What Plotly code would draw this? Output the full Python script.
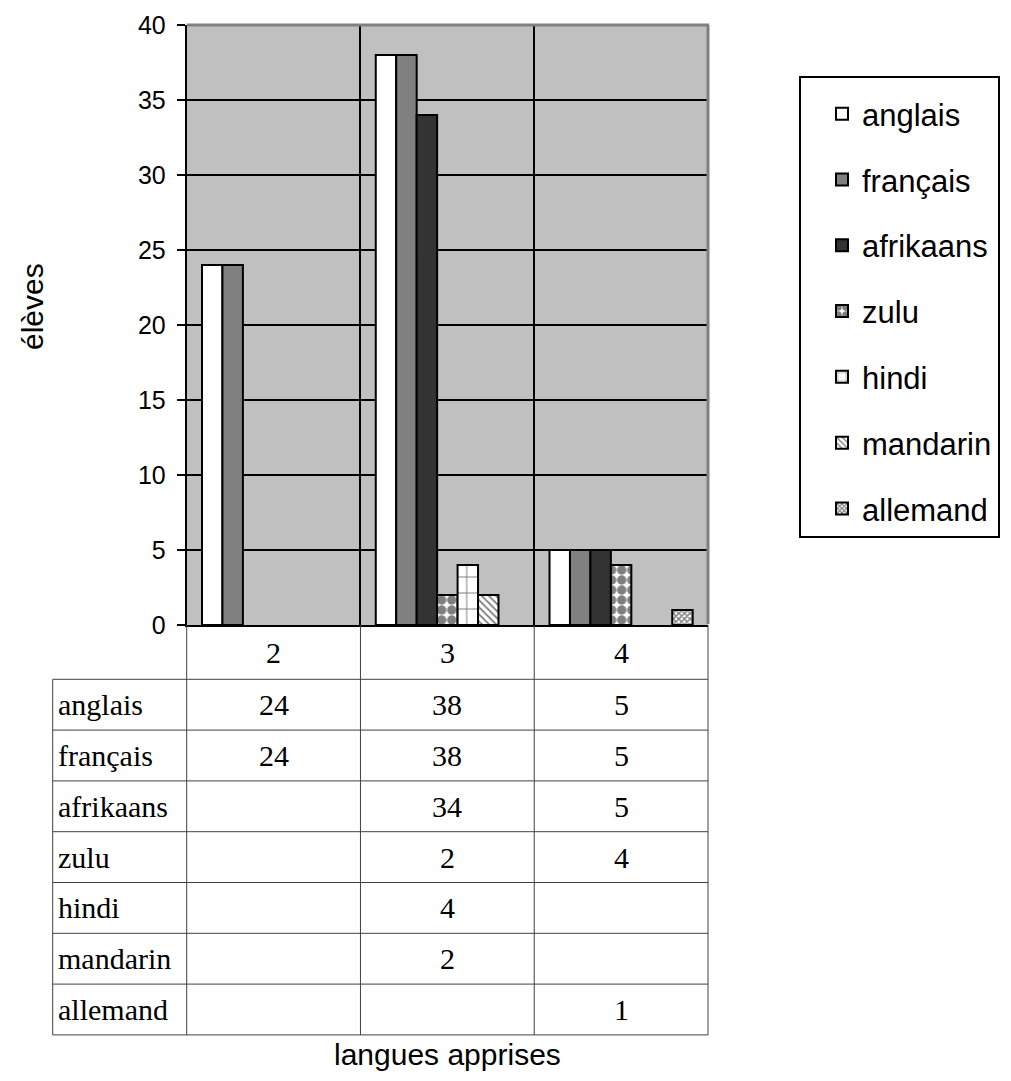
import plotly.graph_objects as go

# ---- data ----
categories = ["2", "3", "4"]
languages = ["anglais", "français", "afrikaans", "zulu", "hindi", "mandarin", "allemand"]
anglais = [24, 38, 5]
francais = [24, 38, 5]
afrikaans = [None, 34, 5]
zulu = [None, 2, 4]
hindi = [None, 4, None]
mandarin = [None, 2, None]
allemand = [None, None, 1]
series = [anglais, francais, afrikaans, zulu, hindi, mandarin, allemand]
y_ticks = [0, 5, 10, 15, 20, 25, 30, 35, 40]

# ---- styles / geometry (target page px; page has an 8px body margin) ----
OFF = 8
W, H = 1011 - OFF, 1081 - 2 * OFF
SANS = "Liberation Sans, Arial, sans-serif"
SERIF = "Liberation Serif, Times New Roman, serif"
PL, PR, PT, PB = 186.7, 708.0, 25.0, 625.0       # plot area
TAB_L, HDR_B, ROW_H = 52.7, 679.3, 50.8          # table

styles = [
    dict(color="white"),
    dict(color="#808080"),
    dict(color="#333333"),
    dict(color="white", pattern=dict(shape=".", fgcolor="black", bgcolor="white", size=10, solidity=0.7)),
    dict(color="white", pattern=dict(shape="+", fgcolor="black", bgcolor="white", size=16, solidity=0.12)),
    dict(color="white", pattern=dict(shape="\\", fgcolor="black", bgcolor="white", size=5, solidity=0.35)),
    dict(color="white", pattern=dict(shape="x", fgcolor="black", bgcolor="white", size=4, solidity=0.6)),
]


def px(x):
    return (x - OFF) / W


def py(y):
    return 1 - (y - OFF) / H


fig = go.Figure()
for name, vals, st in zip(languages, series, styles):
    marker = dict(color=st["color"], line=dict(color="black", width=2))
    if "pattern" in st:
        marker["pattern"] = st["pattern"]
    fig.add_trace(go.Bar(x=categories, y=vals, name=name, marker=marker,
                         legendgroup=name))

shapes = []
line_c = "#404040"
n_cat = len(categories)
cw = (PR - PL) / n_cat
tab_bottom = HDR_B + ROW_H * len(languages)
for i in range(n_cat + 1):
    xx = PL + i * cw
    shapes.append(dict(type="line", xref="paper", yref="paper", x0=px(xx), x1=px(xx),
                       y0=py(PB), y1=py(tab_bottom), line=dict(color=line_c, width=1)))
shapes.append(dict(type="line", xref="paper", yref="paper", x0=px(TAB_L), x1=px(TAB_L),
                   y0=py(HDR_B), y1=py(tab_bottom), line=dict(color=line_c, width=1)))
for r in range(len(languages) + 1):
    yy = HDR_B + r * ROW_H
    shapes.append(dict(type="line", xref="paper", yref="paper", x0=px(TAB_L), x1=px(PR),
                       y0=py(yy), y1=py(yy), line=dict(color=line_c, width=1)))
# gray top / right border of plot area
shapes.append(dict(type="line", xref="paper", yref="paper", x0=px(PL), x1=px(PR + 1),
                   y0=py(PT), y1=py(PT), line=dict(color="#808080", width=3), layer="above"))
shapes.append(dict(type="line", xref="paper", yref="paper", x0=px(PR), x1=px(PR),
                   y0=py(PT), y1=py(PB - 1), line=dict(color="#808080", width=3), layer="above"))
# legend box
shapes.append(dict(type="rect", xref="paper", yref="paper", x0=px(800), x1=px(999),
                   y0=py(537), y1=py(77), line=dict(color="black", width=2)))

annotations = []
# header row: category labels
for i, c in enumerate(categories):
    annotations.append(dict(text=c, xref="x", yref="paper", x=i, y=py((PB + HDR_B) / 2),
                            xanchor="center", yanchor="middle", showarrow=False,
                            font=dict(family=SERIF, size=30, color="black")))
for r, (name, vals) in enumerate(zip(languages, series)):
    yc = HDR_B + (r + 0.5) * ROW_H
    annotations.append(dict(text=name, xref="paper", yref="paper", x=px(TAB_L + 3), y=py(yc),
                            xanchor="left", yanchor="middle", showarrow=False,
                            font=dict(family=SERIF, size=30, color="black")))
    for i, v in enumerate(vals):
        if v is None:
            continue
        annotations.append(dict(text=str(v), xref="x", yref="paper", x=i, y=py(yc),
                                xanchor="center", yanchor="middle", showarrow=False,
                                font=dict(family=SERIF, size=30, color="black")))
annotations.append(dict(text="élèves", xref="paper", yref="paper", x=px(33), y=py(307),
                        textangle=-90, showarrow=False, xanchor="center", yanchor="middle",
                        font=dict(family=SANS, size=30, color="black")))
annotations.append(dict(text="langues apprises", xref="paper", yref="paper", x=px(447), y=py(1054),
                        showarrow=False, xanchor="center", yanchor="middle",
                        font=dict(family=SANS, size=30, color="black")))

fig.update_layout(
    width=W, height=H, autosize=False,
    margin=dict(l=0, r=0, t=0, b=0, pad=0, autoexpand=False),
    paper_bgcolor="white", plot_bgcolor="#c0c0c0",
    barmode="group", bargap=0.176, bargroupgap=0,
    showlegend=True,
    legend=dict(x=px(822), y=py(87), xanchor="left", yanchor="top",
                font=dict(family=SANS, size=31, color="black"),
                bgcolor="rgba(0,0,0,0)", borderwidth=0,
                traceorder="grouped", tracegroupgap=22.5),
    xaxis=dict(domain=[px(PL), px(PR)], type="category", range=[-0.5, 2.5],
               tickson="boundaries", showgrid=True, gridcolor="black", gridwidth=2,
               ticks="", showticklabels=False, showline=True, linecolor="black",
               linewidth=2, zeroline=False, automargin=False),
    yaxis=dict(domain=[py(PB), py(PT)], range=[0, 40], tickvals=y_ticks,
               showgrid=True, gridcolor="black", gridwidth=2,
               ticks="outside", ticklen=8, tickwidth=2, tickcolor="black",
               showline=True, linecolor="black", linewidth=2, zeroline=False,
               tickfont=dict(family=SANS, size=25, color="black"),
               ticklabelstandoff=6, automargin=False),
    shapes=shapes, annotations=annotations,
)

fig.write_html("out.html")
